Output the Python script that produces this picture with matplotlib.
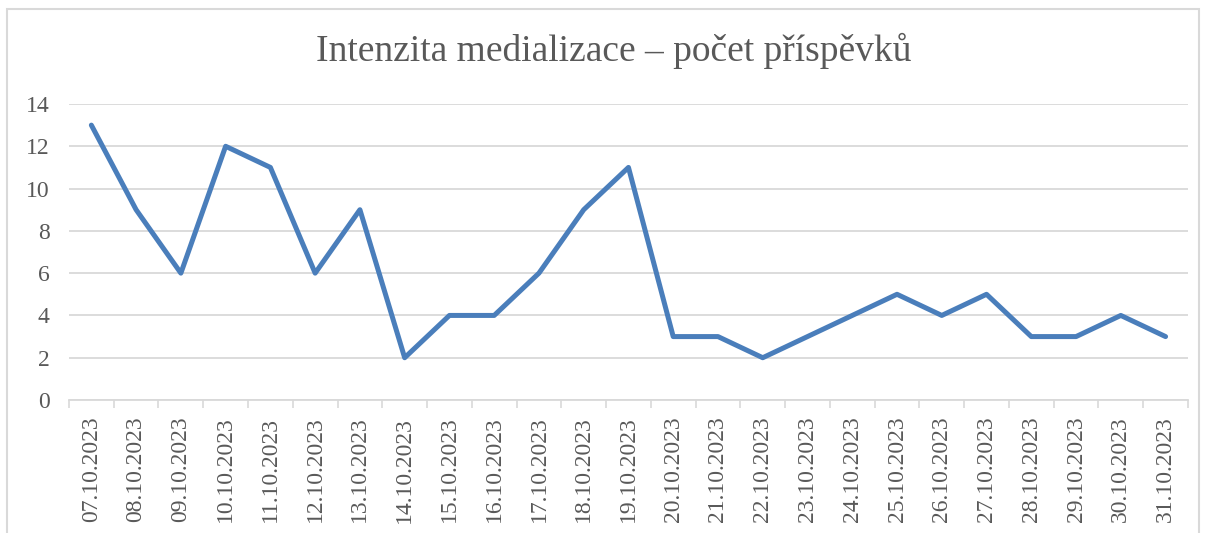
import numpy as np
import matplotlib.pyplot as plt
from matplotlib.patches import Rectangle

# daily counts of articles, October 2023
dates = ["07.10.2023", "08.10.2023", "09.10.2023", "10.10.2023", "11.10.2023",
         "12.10.2023", "13.10.2023", "14.10.2023", "15.10.2023", "16.10.2023",
         "17.10.2023", "18.10.2023", "19.10.2023", "20.10.2023", "21.10.2023",
         "22.10.2023", "23.10.2023", "24.10.2023", "25.10.2023", "26.10.2023",
         "27.10.2023", "28.10.2023", "29.10.2023", "30.10.2023", "31.10.2023"]
counts = [13, 9, 6, 12, 11, 6, 9, 2, 4, 4, 6, 9, 11, 3, 3, 2, 3, 4, 5, 4, 5, 3, 3, 4, 3]
y_ticks = [0, 2, 4, 6, 8, 10, 12, 14]

plt.rcParams['font.family'] = ['Liberation Serif', 'DejaVu Serif']
TEXT = "#595959"
GRID = "#D9D9D9"

fig = plt.figure(figsize=(12.08, 5.33), dpi=100)
ax = fig.add_axes([0.0571, 0.2495, 0.9263, 0.5554])

# outer chart frame (bottom edge is cut off in the original)
fig.patches.append(Rectangle((0.0058, -0.02), 0.9867, 1.003, transform=fig.transFigure,
                             fill=False, edgecolor=GRID, linewidth=1.5))

x = np.arange(len(dates))
ax.plot(x, counts, color="#4A7EBB", linewidth=3.6, solid_joinstyle="round",
        solid_capstyle="round", zorder=3)

ax.set_xlim(-0.5, len(dates) - 0.5)
ax.set_ylim(0, 14)
ax.set_yticks(y_ticks)
ax.set_yticklabels([str(v) for v in y_ticks], fontsize=17, color=TEXT)
ax.set_xticks(x)
ax.set_xticklabels(dates, rotation=90, fontsize=17, color=TEXT)
ax.set_xticks(np.arange(-0.5, len(dates)), minor=True)

ax.tick_params(axis="y", length=0, pad=14)
ax.tick_params(axis="x", which="major", length=0, pad=12)
ax.tick_params(axis="x", which="minor", length=6, width=1.2, color=GRID, direction="out")

ax.grid(axis="y", color=GRID, linewidth=1.3)
ax.set_axisbelow(True)
for side in ["top", "left", "right"]:
    ax.spines[side].set_visible(False)
ax.spines["bottom"].set_color(GRID)
ax.spines["bottom"].set_linewidth(1.3)

fig.text(0.508, 0.905, "Intenzita medializace – počet příspěvků", ha="center", va="center",
         fontsize=27, color=TEXT)

plt.savefig("out.png", dpi=100)
